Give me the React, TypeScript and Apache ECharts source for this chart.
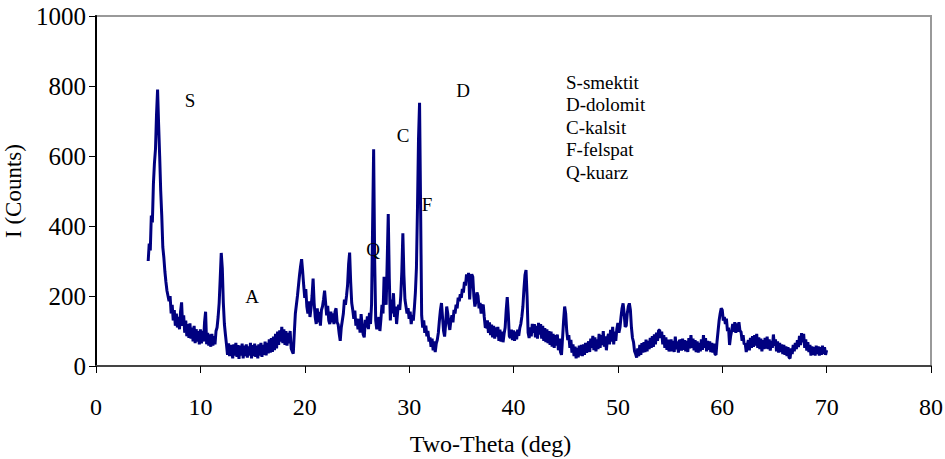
import React, { useEffect, useRef } from "react";
import * as echarts from "echarts";

// Scan grid: two-theta from 5.0 to 70.0 deg in 0.1 deg steps
const START_ANGLE = 5.0;
const STEP = 0.1;

// Measured intensities (counts), one row per degree
const counts: number[] = [
  300, 350, 330, 430, 410, 520, 580, 620, 720, 790, // 5
  690, 600, 500, 430, 340, 310, 270, 240, 215, 200, // 6
  185, 200, 150, 175, 130, 160, 115, 150, 110, 140, // 7
  105, 155, 182, 115, 145, 95, 130, 85, 120, 80, // 8
  122, 78, 110, 70, 115, 65, 105, 70, 100, 62, // 9
  105, 65, 100, 70, 125, 155, 62, 95, 58, 90, // 10
  55, 92, 58, 85, 62, 100, 110, 140, 180, 250, // 11
  323, 280, 180, 120, 90, 62, 32, 65, 28, 60, // 12
  45, 22, 62, 30, 66, 26, 60, 20, 58, 30, // 13
  64, 22, 58, 28, 62, 24, 56, 30, 66, 22, // 14
  60, 28, 64, 26, 58, 22, 62, 30, 66, 26, // 15
  60, 32, 70, 30, 66, 36, 76, 38, 80, 40, // 16
  84, 45, 92, 50, 98, 60, 102, 70, 112, 65, // 17
  105, 60, 100, 58, 95, 65, 100, 50, 42, 35, // 18
  95, 150, 175, 200, 230, 260, 285, 305, 270, 230, // 19
  195, 220, 170, 150, 185, 140, 165, 200, 250, 180, // 20
  140, 120, 165, 125, 155, 115, 160, 170, 190, 215, // 21
  180, 145, 172, 130, 120, 155, 125, 150, 120, 155, // 22
  165, 125, 118, 92, 72, 110, 130, 150, 190, 175, // 23
  200, 230, 290, 324, 240, 180, 160, 135, 158, 115, // 24
  135, 105, 135, 95, 148, 115, 90, 82, 132, 110, // 25
  142, 105, 152, 120, 175, 400, 619, 300, 130, 105, // 26
  123, 140, 100, 135, 175, 150, 255, 210, 175, 300, // 27
  434, 250, 130, 190, 150, 208, 140, 170, 120, 155, // 28
  175, 160, 200, 270, 379, 260, 190, 170, 150, 165, // 29
  135, 155, 120, 145, 130, 165, 210, 280, 450, 650, // 30
  752, 450, 145, 110, 130, 95, 115, 85, 100, 70, // 31
  82, 55, 78, 45, 70, 40, 64, 75, 95, 130, // 32
  160, 180, 140, 100, 84, 120, 170, 150, 120, 103, // 33
  130, 145, 125, 160, 150, 175, 165, 195, 185, 205, // 34
  195, 220, 210, 240, 230, 262, 245, 266, 190, 240, // 35
  262, 255, 200, 170, 185, 210, 200, 165, 180, 150, // 36
  170, 175, 140, 110, 112, 130, 95, 125, 88, 118, // 37
  82, 115, 78, 110, 84, 112, 72, 104, 70, 98, // 38
  68, 92, 110, 160, 197, 150, 85, 80, 104, 74, // 39
  102, 72, 98, 76, 104, 86, 108, 120, 141, 170, // 40
  220, 260, 274, 200, 95, 80, 110, 85, 120, 95, // 41
  120, 82, 115, 78, 123, 90, 120, 78, 115, 72, // 42
  108, 68, 105, 65, 100, 60, 98, 55, 92, 52, // 43
  88, 58, 90, 45, 78, 40, 32, 80, 130, 170, // 44
  150, 100, 74, 88, 52, 75, 38, 62, 28, 55, // 45
  22, 52, 25, 58, 30, 60, 28, 62, 32, 66, // 46
  38, 60, 70, 40, 78, 52, 86, 45, 82, 42, // 47
  76, 48, 92, 52, 88, 60, 100, 55, 85, 45, // 48
  80, 92, 62, 103, 70, 112, 62, 98, 72, 106, // 49
  123, 95, 110, 140, 165, 179, 150, 112, 115, 150, // 50
  170, 179, 160, 110, 80, 68, 42, 34, 24, 50, // 51
  28, 60, 32, 65, 38, 68, 40, 75, 42, 72, // 52
  48, 80, 52, 85, 55, 90, 62, 95, 72, 102, // 53
  103, 80, 98, 62, 88, 52, 82, 46, 75, 42, // 54
  50, 76, 42, 72, 40, 84, 48, 70, 38, 75, // 55
  70, 44, 78, 46, 74, 42, 72, 40, 80, 50, // 56
  88, 52, 78, 45, 74, 40, 70, 38, 66, 42, // 57
  76, 46, 88, 52, 80, 42, 72, 46, 70, 40, // 58
  66, 38, 64, 34, 32, 70, 100, 130, 150, 165, // 59
  160, 130, 140, 120, 135, 100, 110, 60, 85, 100, // 60
  120, 98, 125, 95, 122, 98, 125, 100, 98, 72, // 61
  88, 62, 64, 40, 60, 74, 45, 80, 52, 85, // 62
  55, 88, 58, 92, 52, 82, 48, 78, 42, 74, // 63
  48, 80, 50, 84, 48, 76, 44, 72, 52, 90, // 64
  58, 76, 42, 70, 38, 66, 40, 62, 34, 60, // 65
  32, 56, 28, 54, 24, 22, 50, 34, 60, 42, // 66
  66, 48, 74, 54, 86, 60, 94, 68, 92, 52, // 67
  76, 44, 68, 40, 60, 30, 56, 32, 54, 30, // 68
  58, 34, 56, 30, 54, 32, 58, 34, 54, 32, // 69
  45, // 70
];

// Phase markers placed over the pattern
const peakMarks = ["S", "A", "Q", "C", "F", "D"];
// Key to the phase letters
const phaseKey = ["S-smektit", "D-dolomit", "C-kalsit", "F-felspat", "Q-kuarz"];

const xTicks = { min: 0, max: 80, interval: 10 };
const yTicks = { min: 0, max: 1000, interval: 200 };

const SERIF = "'Liberation Serif', 'Times New Roman', serif";

const markPos: Record<string, [number, number]> = {
  S: [190, 100],
  A: [252, 296],
  Q: [373, 249],
  C: [403, 135],
  F: [427, 204],
  D: [463, 90],
};

export default function App() {
  const ref = useRef<HTMLDivElement>(null);

  useEffect(() => {
    if (!ref.current) return;
    const chart = echarts.init(ref.current, undefined, { renderer: "svg" });

    const pattern = counts.map((c, i) => [
      Math.round((START_ANGLE + i * STEP) * 10) / 10,
      c,
    ]);

    const markText = peakMarks.map((m) => ({
      type: "text",
      x: markPos[m][0],
      y: markPos[m][1],
      style: {
        text: m,
        fontFamily: SERIF,
        fontSize: 19,
        fill: "#000",
        textAlign: "center",
        textVerticalAlign: "middle",
      },
      z: 10,
    }));

    chart.setOption({
      animation: false,
      backgroundColor: "#fff",
      grid: {
        left: 96,
        right: 14,
        top: 16,
        bottom: 93,
        containLabel: false,
        outerBoundsMode: "none",
        show: true,
        borderColor: "#999999",
        borderWidth: 2,
        backgroundColor: "transparent",
      },
      xAxis: {
        type: "value",
        ...xTicks,
        name: "Two-Theta (deg)",
        nameLocation: "middle",
        nameGap: 66,
        nameTextStyle: {
          fontFamily: SERIF,
          fontSize: 24,
          color: "#000",
          padding: [0, 46, 0, 0],
        },
        axisLine: { show: true, lineStyle: { color: "#444", width: 2 } },
        axisTick: { show: true, length: 7, lineStyle: { color: "#000", width: 1 } },
        axisLabel: {
          margin: 29,
          fontFamily: SERIF,
          fontSize: 24,
          color: "#000",
          formatter: (v: number) => String(v),
        },
        splitLine: { show: false },
      },
      yAxis: {
        type: "value",
        ...yTicks,
        name: "I (Counts)",
        nameLocation: "middle",
        nameGap: 66,
        nameTextStyle: { fontFamily: SERIF, fontSize: 23, color: "#000" },
        axisLine: { show: true, lineStyle: { color: "#000", width: 2 } },
        axisTick: { show: true, length: 7, lineStyle: { color: "#000", width: 1 } },
        axisLabel: {
          margin: 10,
          fontFamily: SERIF,
          fontSize: 25,
          color: "#000",
          formatter: (v: number) => String(v),
        },
        splitLine: { show: false },
      },
      series: [
        {
          type: "line",
          data: pattern,
          showSymbol: false,
          symbol: "none",
          lineStyle: { color: "#000080", width: 3 },
          itemStyle: { color: "#000080" },
          z: 3,
        },
      ],
      graphic: [
        ...markText,
        {
          type: "text",
          left: 566,
          top: 71,
          style: {
            text: phaseKey.join("\n"),
            fontFamily: SERIF,
            fontSize: 19,
            lineHeight: 22.5,
            fill: "#000",
          },
          z: 10,
        },
      ],
    });

    return () => chart.dispose();
  }, []);

  return (
    <div
      ref={ref}
      style={{ position: "absolute", left: 0, top: 0, width: 945, height: 459 }}
    />
  );
}
